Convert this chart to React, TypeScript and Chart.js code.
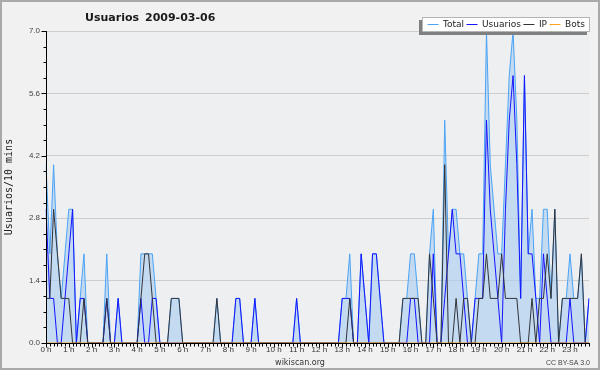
import React, { useEffect, useRef } from 'react';
import { Chart, registerables } from 'chart.js';

Chart.register(...registerables);

const TITLE_NAME = 'Usuarios';
const TITLE_DATE = '2009-03-06';
const Y_TITLE = 'Usuarios/10 mins';
const FOOTER = 'wikiscan.org';
const LICENSE = 'CC BY-SA 3.0';

const HOUR_LABELS = [
  '0 h', '1 h', '2 h', '3 h', '4 h', '5 h', '6 h', '7 h', '8 h', '9 h', '10 h', '11 h',
  '12 h', '13 h', '14 h', '15 h', '16 h', '17 h', '18 h', '19 h', '20 h', '21 h', '22 h', '23 h',
];
const MINUTES = ['00', '10', '20', '30', '40', '50'];
const SLOTS = HOUR_LABELS.flatMap((h) => MINUTES.map((m) => `${h} ${m}`));

const SERIES_NAMES = ['Total', 'Usuarios', 'IP', 'Bots'];

const totalValues = [
  4, 2, 4, 2, 1, 2, 3, 3, 0, 1, 2, 0,
  0, 0, 0, 0, 2, 0, 0, 1, 0, 0, 0, 0,
  0, 2, 2, 2, 2, 1, 0, 0, 0, 1, 1, 1,
  0, 0, 0, 0, 0, 0, 0, 0, 0, 1, 0, 0,
  0, 0, 1, 1, 0, 0, 0, 1, 0, 0, 0, 0,
  0, 0, 0, 0, 0, 0, 1, 0, 0, 0, 0, 0,
  0, 0, 0, 0, 0, 0, 1, 1, 2, 0, 0, 2,
  1, 0, 2, 2, 1, 0, 0, 0, 0, 0, 1, 1,
  2, 2, 1, 0, 0, 2, 3, 0, 0, 5, 2, 3,
  3, 2, 2, 1, 0, 1, 2, 2, 7, 4, 3, 2,
  2, 4, 6, 7, 5, 1, 6, 2, 3, 1, 1, 3,
  3, 1, 3, 0, 1, 1, 2, 1, 1, 2, 0, 1,
];

const usuariosValues = [
  3, 1, 1, 0, 0, 1, 2, 3, 0, 1, 1, 0,
  0, 0, 0, 0, 1, 0, 0, 1, 0, 0, 0, 0,
  0, 1, 0, 0, 1, 1, 0, 0, 0, 0, 0, 0,
  0, 0, 0, 0, 0, 0, 0, 0, 0, 0, 0, 0,
  0, 0, 1, 1, 0, 0, 0, 1, 0, 0, 0, 0,
  0, 0, 0, 0, 0, 0, 1, 0, 0, 0, 0, 0,
  0, 0, 0, 0, 0, 0, 1, 1, 1, 0, 0, 2,
  1, 0, 2, 2, 1, 0, 0, 0, 0, 0, 0, 0,
  1, 1, 0, 0, 0, 0, 2, 0, 0, 1, 2, 3,
  2, 2, 1, 0, 0, 1, 1, 1, 5, 3, 2, 1,
  0, 3, 5, 6, 4, 1, 6, 2, 2, 1, 0, 2,
  1, 0, 0, 0, 0, 0, 1, 0, 0, 0, 0, 1,
];

const ipValues = [
  1, 1, 3, 2, 1, 1, 1, 0, 0, 0, 1, 0,
  0, 0, 0, 0, 1, 0, 0, 0, 0, 0, 0, 0,
  0, 1, 2, 2, 1, 0, 0, 0, 0, 1, 1, 1,
  0, 0, 0, 0, 0, 0, 0, 0, 0, 1, 0, 0,
  0, 0, 0, 0, 0, 0, 0, 0, 0, 0, 0, 0,
  0, 0, 0, 0, 0, 0, 0, 0, 0, 0, 0, 0,
  0, 0, 0, 0, 0, 0, 0, 0, 1, 0, 0, 0,
  0, 0, 0, 0, 0, 0, 0, 0, 0, 0, 1, 1,
  1, 1, 1, 0, 0, 2, 1, 0, 0, 4, 0, 0,
  1, 0, 1, 1, 0, 0, 1, 1, 2, 1, 1, 1,
  2, 1, 1, 1, 1, 0, 0, 0, 1, 0, 1, 1,
  2, 1, 3, 0, 1, 1, 1, 1, 1, 2, 0, 0,
];

const botsValues = [
  0, 0, 0, 0, 0, 0, 0, 0, 0, 0, 0, 0,
  0, 0, 0, 0, 0, 0, 0, 0, 0, 0, 0, 0,
  0, 0, 0, 0, 0, 0, 0, 0, 0, 0, 0, 0,
  0, 0, 0, 0, 0, 0, 0, 0, 0, 0, 0, 0,
  0, 0, 0, 0, 0, 0, 0, 0, 0, 0, 0, 0,
  0, 0, 0, 0, 0, 0, 0, 0, 0, 0, 0, 0,
  0, 0, 0, 0, 0, 0, 0, 0, 0, 0, 0, 0,
  0, 0, 0, 0, 0, 0, 0, 0, 0, 0, 0, 0,
  0, 0, 0, 0, 0, 0, 0, 0, 0, 0, 0, 0,
  0, 0, 0, 0, 0, 0, 0, 0, 0, 0, 0, 0,
  0, 0, 0, 0, 0, 0, 0, 0, 0, 0, 0, 0,
  0, 0, 0, 0, 0, 0, 0, 0, 0, 0, 0, 0,
];

const Y_MAX = 7;
const Y_STEP = 1.4;
const Y_MINOR = 0.35;

const COLORS = {
  total: '#4aa3f5',
  totalFill: 'rgba(168,205,240,0.62)',
  usuarios: '#1414ff',
  ip: '#333338',
  bots: '#ffa020',
};

const decorPlugin = {
  id: 'decor',
  beforeDraw(chart: any) {
    const { ctx, chartArea: a, width, height } = chart;
    ctx.save();
    ctx.fillStyle = '#f1f1f2';
    ctx.fillRect(0, 0, width, height);
    ctx.fillStyle = '#eeeff1';
    ctx.fillRect(a.left, a.top, a.right - a.left, a.bottom - a.top);
    ctx.strokeStyle = '#a9a9a9';
    ctx.lineWidth = 2;
    ctx.strokeRect(1, 1, width - 2, height - 2);

    ctx.fillStyle = '#1a1a1a';
    ctx.font = 'bold 11px "DejaVu Sans"';
    ctx.textAlign = 'left';
    ctx.textBaseline = 'alphabetic';
    ctx.fillText(TITLE_NAME, 85, 21);
    ctx.fillText(TITLE_DATE, 145, 21);

    ctx.fillStyle = '#333';
    ctx.font = '8px "DejaVu Sans"';
    ctx.textAlign = 'center';
    ctx.fillText(FOOTER, 300, 365);
    ctx.fillStyle = '#444';
    ctx.font = '7px "Liberation Sans"';
    ctx.textAlign = 'right';
    ctx.fillText(LICENSE, 590, 365);
    ctx.restore();
  },
  afterDatasetsDraw(chart: any) {
    const { ctx, chartArea: a } = chart;
    const xs = chart.scales.x;
    const ys = chart.scales.y;
    ctx.save();
    ctx.strokeStyle = '#000';
    ctx.lineWidth = 1;
    ctx.beginPath();
    const ax = Math.round(a.left) + 0.5;
    const ay = Math.round(a.bottom) + 0.5;
    ctx.moveTo(ax, Math.round(a.top));
    ctx.lineTo(ax, ay);
    ctx.lineTo(Math.round(a.right) + 1, ay);
    // y ticks
    const nMinor = Math.round(Y_MAX / Y_MINOR);
    for (let k = 0; k <= nMinor; k++) {
      const v = k * Y_MINOR;
      const y = Math.round(ys.getPixelForValue(v)) + 0.5;
      const len = k % 4 === 0 ? 5 : 3;
      ctx.moveTo(ax - len, y);
      ctx.lineTo(ax, y);
    }
    // x ticks
    for (let i = 0; i < SLOTS.length; i++) {
      const x = Math.round(xs.getPixelForValue(i)) + 0.5;
      const len = i % 6 === 0 ? 4 : 3;
      ctx.moveTo(x, ay);
      ctx.lineTo(x, ay + len);
    }
    ctx.stroke();

    // legend
    const bx = 422, by = 17, bw = 168, bh = 15;
    ctx.fillStyle = '#808080';
    ctx.fillRect(bx - 3, by + 3, bw, bh);
    ctx.fillStyle = '#ffffff';
    ctx.fillRect(bx, by, bw, bh);
    ctx.strokeStyle = '#b4b4b4';
    ctx.strokeRect(bx + 0.5, by + 0.5, bw - 1, bh - 1);
    ctx.font = '9px "DejaVu Sans"';
    ctx.textAlign = 'left';
    ctx.textBaseline = 'middle';
    let x = 427.5;
    chart.data.datasets.forEach((ds: any) => {
      ctx.strokeStyle = ds.legendColor || ds.borderColor;
      ctx.lineWidth = 1;
      ctx.beginPath();
      ctx.moveTo(x, 24.5);
      ctx.lineTo(x + 11, 24.5);
      ctx.stroke();
      ctx.fillStyle = '#222';
      ctx.fillText(ds.label, x + 15.5, 25);
      x += 15.5 + ctx.measureText(ds.label).width + 2.5;
    });
    ctx.restore();
  },
};

export default function App() {
  const ref = useRef<HTMLCanvasElement | null>(null);
  useEffect(() => {
    document.body.style.margin = '0';
    const canvas = ref.current;
    if (!canvas) return;
    const chart = new Chart(canvas, {
      type: 'line',
      data: {
        labels: SLOTS,
        datasets: [
          {
            label: SERIES_NAMES[0],
            data: totalValues,
            borderColor: COLORS.total,
            backgroundColor: COLORS.totalFill,
            fill: 'origin',
            borderWidth: 1,
            pointRadius: 0,
            tension: 0,
            order: 4,
          },
          {
            label: SERIES_NAMES[1],
            data: usuariosValues,
            borderColor: COLORS.usuarios,
            borderWidth: 1,
            pointRadius: 0,
            tension: 0,
            fill: false,
            order: 3,
          },
          {
            label: SERIES_NAMES[2],
            data: ipValues,
            borderColor: COLORS.ip,
            borderWidth: 1,
            pointRadius: 0,
            tension: 0,
            fill: false,
            order: 2,
          },
          {
            label: SERIES_NAMES[3],
            data: botsValues,
            borderColor: COLORS.bots,
            borderWidth: 1,
            pointRadius: 0,
            tension: 0,
            fill: false,
            order: 1,
          },
        ] as any,
      },
      options: {
        responsive: false,
        animation: false,
        devicePixelRatio: 1,
        layout: { padding: { top: 31, right: 11, left: 0, bottom: 0 } },
        plugins: {
          legend: { display: false },
          tooltip: { enabled: false },
          title: { display: false },
        },
        scales: {
          x: {
            type: 'category',
            offset: false,
            grid: { display: false, drawTicks: false },
            border: { display: false },
            ticks: {
              autoSkip: false,
              maxRotation: 0,
              minRotation: 0,
              padding: 2,
              color: '#333',
              font: { size: 8, family: '"Liberation Sans"' },
              callback: (_v: any, i: number) => (i % 6 === 0 ? HOUR_LABELS[i / 6] : ''),
            },
            afterFit: (s: any) => {
              s.height = 27;
            },
          },
          y: {
            min: 0,
            max: Y_MAX,
            grid: { color: '#cdcdcd', drawTicks: false, lineWidth: 1 },
            border: { display: false },
            ticks: {
              stepSize: Y_STEP,
              padding: 6,
              color: '#444',
              font: { size: 8, family: '"Liberation Sans"' },
              callback: (v: any) => Number(v).toFixed(1),
            },
            title: {
              display: true,
              text: Y_TITLE,
              color: '#222',
              font: { size: 10, family: '"DejaVu Sans Mono"' },
              padding: { top: 3, bottom: 0 },
            },
            afterFit: (s: any) => {
              s.width = 46;
            },
          },
        },
      } as any,
      plugins: [decorPlugin],
    });
    return () => chart.destroy();
  }, []);
  return (
    <div style={{ width: 600, height: 370 }}>
      <canvas ref={ref} width={600} height={370} style={{ display: 'block' }} />
    </div>
  );
}
